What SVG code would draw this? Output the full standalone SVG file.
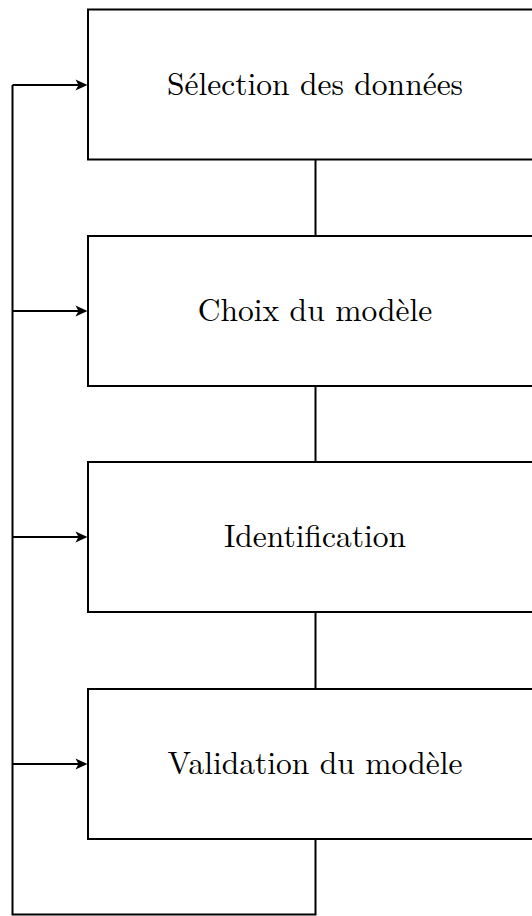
<svg xmlns="http://www.w3.org/2000/svg" xmlns:xlink="http://www.w3.org/1999/xlink" width="532" height="916" viewBox="0 0 532 916">
<style>
.box{fill:#fff;stroke:#000;stroke-width:2}
.ln{fill:none;stroke:#000;stroke-width:2}
.t{font-family:"Latin Modern Roman","Liberation Serif",serif;font-size:31.5px;text-anchor:middle;fill:#000}
</style>
<defs>
<path id="ah" d="M-12,-5.5 L0,0 L-12,5.5 L-9,0 Z" fill="#000"/>
</defs>
<g id="connectors">
<line class="ln" x1="12.5" y1="85" x2="80" y2="85"/>
<line class="ln" x1="12.5" y1="311" x2="80" y2="311"/>
<line class="ln" x1="12.5" y1="537" x2="80" y2="537"/>
<line class="ln" x1="12.5" y1="764" x2="80" y2="764"/>
<line class="ln" x1="315.5" y1="160" x2="315.5" y2="236"/>
<line class="ln" x1="315.5" y1="386" x2="315.5" y2="462"/>
<line class="ln" x1="315.5" y1="612" x2="315.5" y2="689"/>
<polyline class="ln" points="315.5,839 315.5,914.5 12.5,914.5 12.5,85"/>
<use xlink:href="#ah" href="#ah" x="87.5" y="85"/>
<use xlink:href="#ah" href="#ah" x="87.5" y="311"/>
<use xlink:href="#ah" href="#ah" x="87.5" y="537"/>
<use xlink:href="#ah" href="#ah" x="87.5" y="764"/>
</g>
<g id="n1"><rect class="box" x="88" y="9.5" width="455" height="150"/><text class="t" x="315" y="94.5">Sélection des données</text></g>
<g id="n2"><rect class="box" x="88" y="236" width="455" height="150"/><text class="t" x="315" y="320.5">Choix du modèle</text></g>
<g id="n3"><rect class="box" x="88" y="462" width="455" height="150"/><text class="t" x="315" y="547">Identification</text></g>
<g id="n4"><rect class="box" x="88" y="689" width="455" height="150"/><text class="t" x="315" y="773.5">Validation du modèle</text></g>
</svg>
